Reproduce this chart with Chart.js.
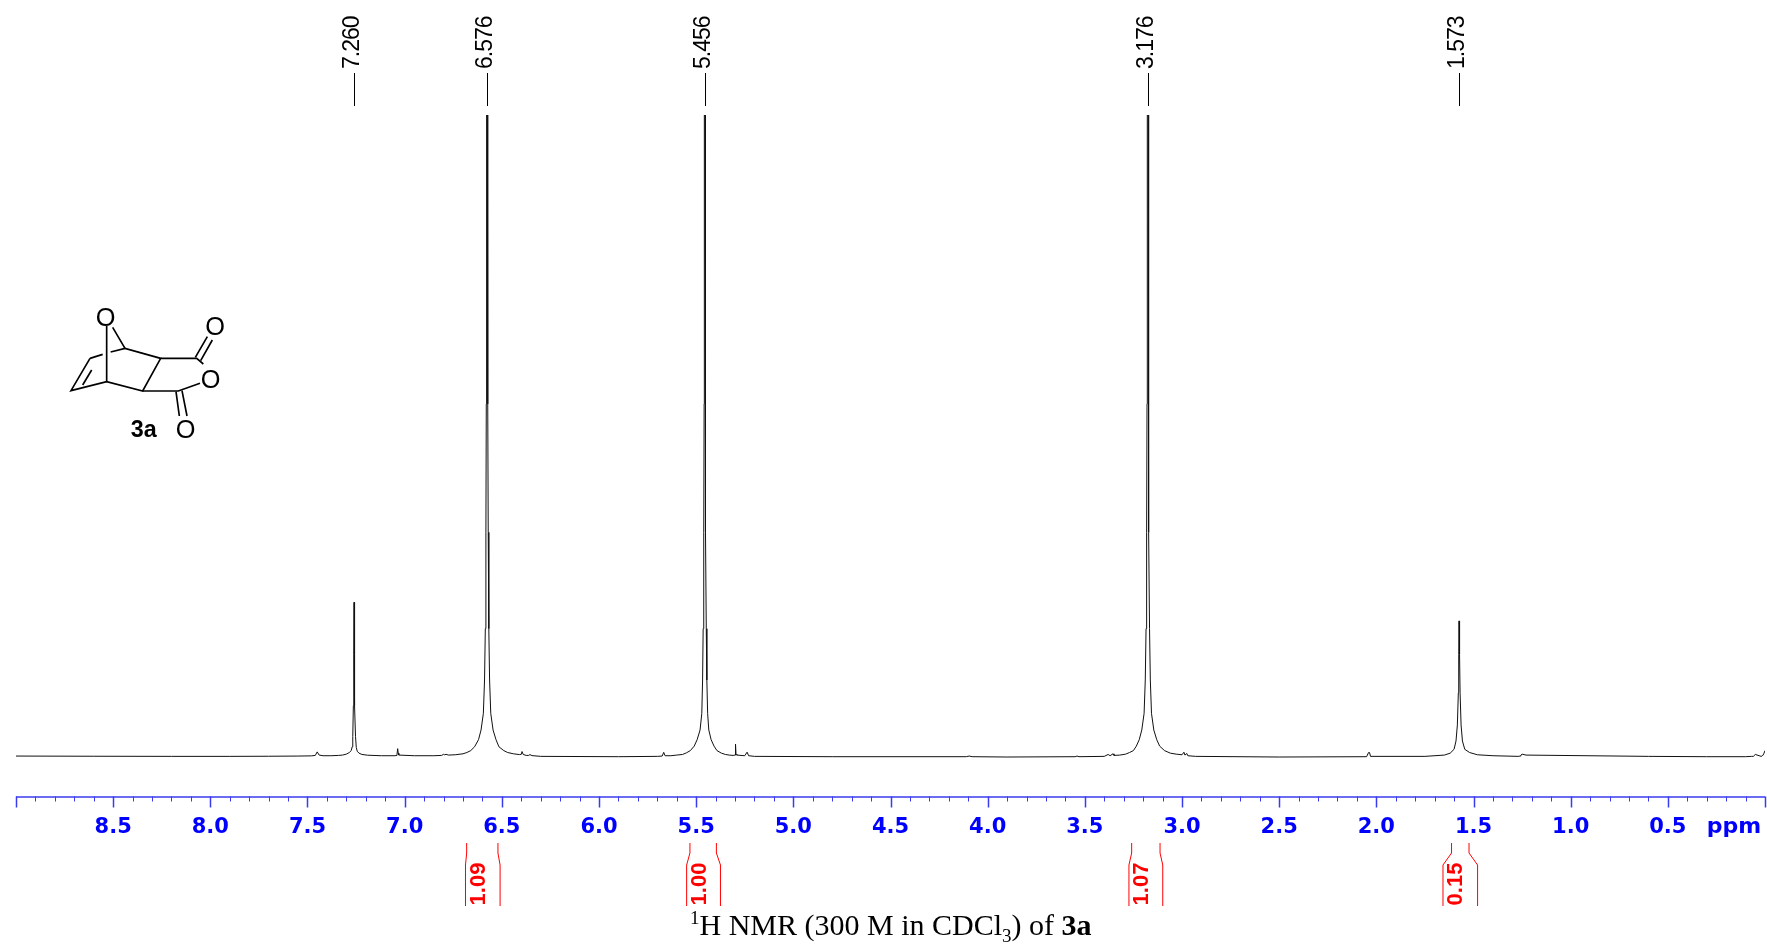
<!DOCTYPE html>
<html>
<head>
<meta charset="utf-8">
<title>1H NMR of 3a</title>
<script src="https://cdn.jsdelivr.net/npm/chart.js@4"></script>
<style>
  html, body { margin: 0; padding: 0; background: #fff; }
  #wrap { position: relative; width: 1767px; height: 944px; overflow: hidden; }
  #nmr { position: absolute; left: 0; top: 0; }
  #mol { position: absolute; left: 40px; top: 290px; }
  #caption {
    position: absolute; left: 690px; top: 908px; white-space: nowrap; color: #000;
    font: 30px "Liberation Serif", serif;
  }
  #caption sup, #caption sub { font-size: 19px; line-height: 0; }
</style>
</head>
<body>
<div id="wrap">
  <canvas id="nmr" width="1767" height="944"></canvas>
  <svg id="mol" width="210" height="170" viewBox="0 0 630 510">
    <g stroke="#000" stroke-width="5" fill="none">
      <path d="M150 205L93 302L200 275L308 303L362 205L255 175L212 186M188 193L150 205"/>
      <path d="M155 240L128 285"/>
      <path d="M200 108V275M218 112L255 175"/>
      <path d="M362 205H470L490 222M308 303H415L480 280"/>
      <path d="M482 212L517 150M466 202L502 140"/>
      <path d="M408 305L418 378M426 302L441 378"/>
    </g>
    <g font-family="Liberation Sans, Arial, sans-serif" font-size="76" text-anchor="middle" fill="#000">
      <text x="197" y="107">O</text>
      <text x="525" y="135">O</text>
      <text x="512" y="295">O</text>
      <text x="437" y="445">O</text>
      <text x="311" y="442" font-weight="bold" font-size="70">3a</text>
    </g>
  </svg>
  <div id="caption"><sup>1</sup>H NMR (300 M in CDCl<sub>3</sub>) of <b>3a</b></div>
</div>
<script>
// spectrum (ppm descending, intensity in % of the tall peaks)
const specPpm = [
  9.0, 8.6, 8.2, 7.9, 7.7, 7.55, 7.48, 7.46, 7.45, 7.44, 7.42, 7.38, 7.34, 7.32, 7.30,
  7.285, 7.275, 7.27, 7.267, 7.264, 7.262, 7.2605, 7.2595, 7.258, 7.256, 7.253, 7.249, 7.244, 7.235, 7.22, 7.19, 7.12,
  7.05, 7.04, 7.036, 7.033, 7.03, 6.95, 6.85, 6.81, 6.80, 6.795, 6.787, 6.775,
  6.74, 6.70, 6.68, 6.66, 6.64, 6.62, 6.607, 6.595, 6.589, 6.585, 6.582, 6.580, 6.579, 6.578,
  6.574, 6.573, 6.572, 6.57, 6.567, 6.563, 6.557, 6.545, 6.53, 6.515, 6.49, 6.47, 6.44, 6.41,
  6.40, 6.396, 6.39, 6.375, 6.362, 6.355, 6.345, 6.3, 5.9, 5.7, 5.675, 5.667, 5.66, 5.63,
  5.6, 5.57, 5.55, 5.53, 5.51, 5.495, 5.48, 5.471, 5.467, 5.464, 5.461, 5.459, 5.458,
  5.454, 5.453, 5.451, 5.448, 5.445, 5.441, 5.435, 5.423, 5.408, 5.393, 5.37, 5.35, 5.33, 5.31,
  5.30, 5.2975, 5.295, 5.29, 5.25, 5.238, 5.23, 5.2, 4.8, 4.11, 4.095, 4.08, 3.9, 3.55, 3.54, 3.53,
  3.40, 3.38, 3.37, 3.355, 3.35, 3.32, 3.29, 3.27, 3.25, 3.235, 3.22, 3.207, 3.195, 3.189, 3.185, 3.182, 3.18, 3.179, 3.178,
  3.174, 3.173, 3.172, 3.17, 3.167, 3.163, 3.157, 3.145, 3.13, 3.115, 3.09, 3.06, 3.03, 3.0,
  2.99, 2.985, 2.975, 2.97, 2.93, 2.5, 2.05, 2.04, 2.035, 2.03,
  1.75, 1.65, 1.62, 1.60, 1.59, 1.583, 1.578, 1.576, 1.5745, 1.5725, 1.571, 1.569, 1.564, 1.557, 1.545, 1.52, 1.48, 1.4,
  1.27, 1.26, 1.256, 1.25, 1.23, 0.6, 0.3, 0.1, 0.07, 0.06, 0.05, 0.02, 0.015, 0.01, 0.005, 0
];
const specVal = [
  0.15, 0.12, 0.1, 0.1, 0.12, 0.15, 0.18, 0.25, 0.8, 0.3, 0.2, 0.2, 0.25, 0.3, 0.45,
  0.7, 1.0, 1.6, 3.2, 8, 16, 24.1, 24.1, 16, 8, 3.2, 1.5, 0.9, 0.6, 0.4, 0.28, 0.2,
  0.2, 0.25, 1.3, 0.6, 0.3, 0.2, 0.2, 0.25, 0.42, 0.35, 0.42, 0.3,
  0.35, 0.5, 0.7, 1.0, 1.6, 2.7, 4.2, 6.8, 12, 20, 35, 55, 80, 100,
  100, 80, 55, 35, 20, 12, 6.8, 4.2, 2.7, 1.6, 1.0, 0.7, 0.5, 0.38,
  0.42, 0.85, 0.4, 0.25, 0.25, 0.38, 0.22, 0.1, 0.05, 0.1, 0.15, 0.73, 0.2, 0.2,
  0.3, 0.4, 0.65, 1.0, 1.7, 2.7, 4.2, 6.8, 12, 20, 35, 55, 100,
  100, 55, 35, 20, 12, 6.8, 4.2, 2.7, 1.7, 1.0, 0.6, 0.4, 0.3, 0.25,
  0.3, 2, 0.4, 0.3, 0.2, 0.75, 0.2, 0.1, 0.05, 0.05, 0.15, 0.05, 0, 0.05, 0.15, 0.05,
  0.1, 0.4, 0.2, 0.5, 0.25, 0.3, 0.45, 0.7, 1.0, 1.7, 2.7, 4.2, 6.8, 12, 20, 35, 55, 80, 100,
  100, 80, 55, 35, 20, 12, 6.8, 4.2, 2.7, 1.7, 1.0, 0.6, 0.45, 0.35,
  0.75, 0.3, 0.55, 0.2, 0.1, 0, 0.05, 0.7, 0.7, 0.1,
  0.1, 0.3, 0.6, 1.2, 2.5, 5, 10, 16, 21.2, 21.2, 16, 10, 5, 2.5, 1.2, 0.7, 0.35, 0.2, 0.1,
  0.15, 0.3, 0.45, 0.3, 0.1, 0.05, 0.05, 0.1, 0.1, 0.4, 0.1, 0.15, 0.3, 0.6, 1.0, 1.5
];

const peakPpm = [7.26, 6.576, 5.456, 3.176, 1.573];
const peakLabels = ['7.260', '6.576', '5.456', '3.176', '1.573'];

// integral brackets: ppm of the upper and lower ends of each side
const intUpperLeft = [6.681, 5.532, 3.259, 1.613];
const intUpperRight = [6.520, 5.396, 3.113, 1.523];
const intLowerLeft = [6.687, 5.549, 3.273, 1.657];
const intLowerRight = [6.509, 5.375, 3.099, 1.479];
const intLabels = ['1.09', '1.00', '1.07', '0.15'];

const axisBlue = '#0000ff';
const intRed = '#ff0000';

const annotations = {
  id: 'annotations',
  afterDraw(chart) {
    const ctx = chart.ctx;
    const x = chart.scales.x;
    const bottom = chart.chartArea.bottom;

    // axis line and ticks
    ctx.save();
    ctx.strokeStyle = '#3a3af0';
    ctx.lineWidth = 1.5;
    ctx.beginPath();
    ctx.moveTo(x.left, bottom + 0.5);
    ctx.lineTo(x.right, bottom + 0.5);
    ctx.stroke();
    x.ticks.forEach(t => {
      const px = Math.round(x.getPixelForValue(t.value)) + 0.5;
      const major = Math.abs(t.value * 2 - Math.round(t.value * 2)) < 1e-6;
      ctx.lineWidth = major ? 1.5 : 1;
      ctx.beginPath();
      ctx.moveTo(px, bottom);
      ctx.lineTo(px, bottom + (major ? 11 : 5));
      ctx.stroke();
    });

    ctx.fillStyle = axisBlue;
    ctx.font = 'bold 22px "DejaVu Sans", sans-serif';
    ctx.textAlign = 'center';
    ctx.textBaseline = 'alphabetic';
    ctx.fillText('ppm', 1734, 833);
    ctx.restore();

    // peak picks along the top
    ctx.save();
    ctx.strokeStyle = '#000';
    ctx.fillStyle = '#000';
    ctx.lineWidth = 1;
    peakPpm.forEach((p, i) => {
      const px = Math.round(x.getPixelForValue(p)) + 0.5;
      ctx.beginPath();
      ctx.moveTo(px, 73);
      ctx.lineTo(px, 106);
      ctx.stroke();
      ctx.save();
      ctx.translate(px + 4.5, 69);
      ctx.rotate(-Math.PI / 2);
      ctx.font = '23px "Liberation Sans", Arial, sans-serif';
      ctx.letterSpacing = '-1px';
      ctx.textAlign = 'left';
      ctx.textBaseline = 'alphabetic';
      ctx.fillText(peakLabels[i], 0, 0);
      ctx.restore();
    });
    ctx.restore();

    // integrals under the axis
    ctx.save();
    ctx.strokeStyle = intRed;
    ctx.fillStyle = intRed;
    ctx.lineWidth = 1;
    intLabels.forEach((label, i) => {
      const ul = x.getPixelForValue(intUpperLeft[i]);
      const ur = x.getPixelForValue(intUpperRight[i]);
      const ll = x.getPixelForValue(intLowerLeft[i]);
      const lr = x.getPixelForValue(intLowerRight[i]);
      ctx.beginPath();
      ctx.moveTo(ul, 843); ctx.lineTo(ul, 853); ctx.lineTo(ll, 865); ctx.lineTo(ll, 906);
      ctx.moveTo(ur, 843); ctx.lineTo(ur, 853); ctx.lineTo(lr, 865); ctx.lineTo(lr, 906);
      ctx.stroke();
      ctx.save();
      ctx.translate((ll + lr) / 2 - 4, 884);
      ctx.rotate(-Math.PI / 2);
      ctx.font = 'bold 22px "Liberation Sans", Arial, sans-serif';
      ctx.textAlign = 'center';
      ctx.textBaseline = 'middle';
      ctx.fillText(label, 0, 0);
      ctx.restore();
    });
    ctx.restore();
  }
};

new Chart(document.getElementById('nmr').getContext('2d'), {
  type: 'line',
  data: {
    datasets: [{
      data: specPpm.map((p, i) => ({ x: p, y: specVal[i] })),
      borderColor: '#111',
      borderWidth: 1,
      pointRadius: 0,
      tension: 0
    }]
  },
  options: {
    responsive: false,
    animation: false,
    parsing: false,
    layout: { padding: { left: 16, right: 2, top: 115, bottom: 0 } },
    plugins: { legend: { display: false }, title: { display: false }, tooltip: { enabled: false } },
    scales: {
      x: {
        type: 'linear',
        reverse: true,
        min: 0,
        max: 9,
        afterFit: s => { s.height = 147.5; s.paddingLeft = 0; s.paddingRight = 0; },
        grid: { display: false, drawTicks: false },
        border: { display: false },
        ticks: {
          stepSize: 0.1,
          autoSkip: false,
          maxRotation: 0,
          padding: 18,
          color: axisBlue,
          font: { family: '"DejaVu Sans", sans-serif', size: 21, weight: 'bold' },
          callback: v => {
            const major = Math.abs(v * 2 - Math.round(v * 2)) < 1e-6;
            return major && v > 0 && v < 9 ? v.toFixed(1) : '';
          }
        }
      },
      y: { display: false, min: -6.15, max: 100 }
    }
  },
  plugins: [annotations]
});
</script>
</body>
</html>
